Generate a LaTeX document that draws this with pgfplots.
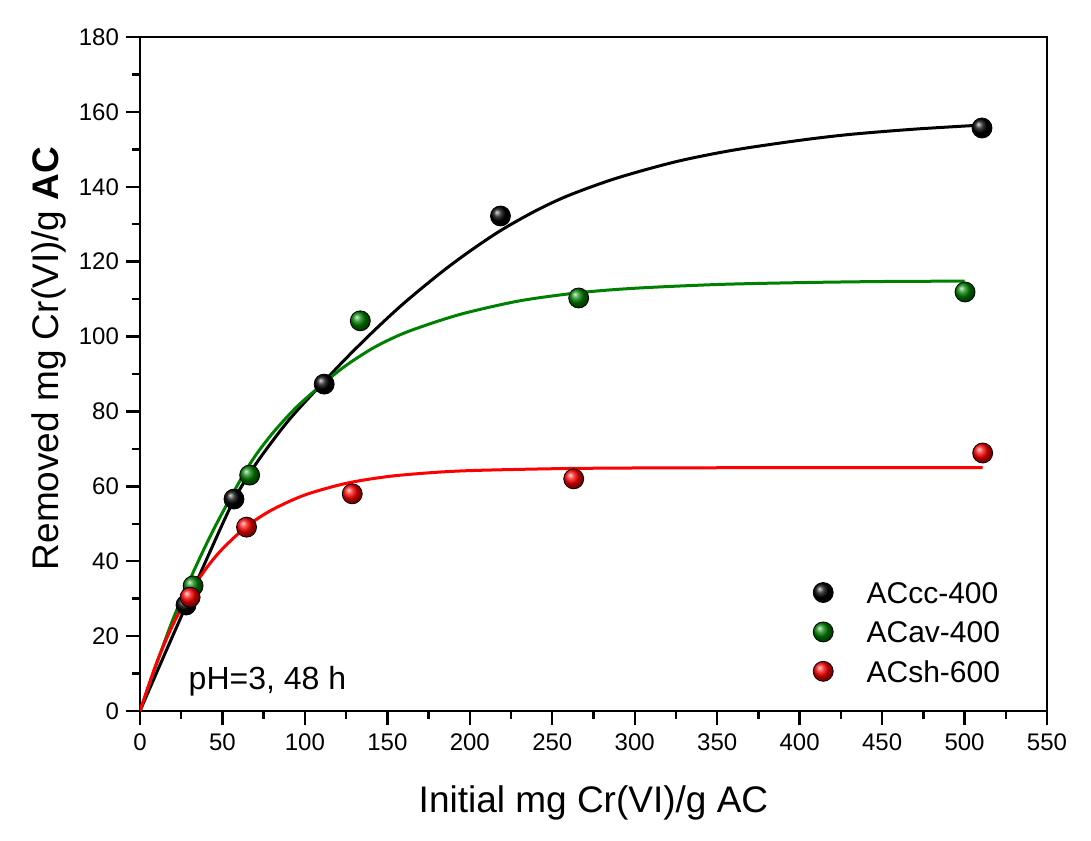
\documentclass[border=0pt]{standalone}
\usepackage{fontspec}
\setmainfont{Liberation Sans}
\usepackage{pgfplots}
\pgfplotsset{compat=1.18}

\definecolor{fitgreen}{RGB}{0,128,0}
\definecolor{fitred}{RGB}{255,0,0}

\begin{document}
\begin{tikzpicture}
\begin{axis}[
  scale only axis,
  width=453.5pt, height=337pt,
  xmin=0, xmax=550, ymin=0, ymax=180,
  xtick={0,50,...,550}, ytick={0,20,...,180},
  minor x tick num=1, minor y tick num=1,
  tick align=outside, tick pos=left,
  major tick length=7pt, minor tick length=3.8pt,
  axis line style={line width=1.2pt},
  every tick/.style={line width=1.2pt, black},
  /pgf/number format/assume math mode=true,
  ticklabel style={font=\fontsize{12}{14}\selectfont},
  xticklabel style={yshift=-1pt},
  xlabel={Initial mg Cr(VI)/g AC},
  ylabel={Removed mg Cr(VI)/g \textbf{AC}},
  label style={font=\fontsize{18.5}{22}\selectfont},
  xlabel style={at={(axis description cs:0.5,-0.1509)}, anchor=base},
  ylabel style={at={(axis description cs:-0.0904,0.523)}, anchor=base},
  legend style={at={(axis cs:408,34.5)}, anchor=north west, draw=none, fill=none,
    inner sep=0pt, outer sep=0pt, font=\fontsize{15}{18}\selectfont,
    row sep=9pt, column sep=16.5pt,
    nodes={inner sep=0pt, text height=10.7pt, text depth=0pt}},
  legend cell align=left,
  legend image code/.code={\draw[#1, mark repeat=1, mark phase=1] plot coordinates {(0pt,0pt)};},
]

% fitted curves
\addplot[black, line width=1.5pt, smooth, forget plot] coordinates {
  (0,0) (14,14.2) (28,28.2) (42,42.1) (57,56.4) (70,65.8) (85,74.8) (95,80.1)
  (111,87.7) (125,94.2) (142,101.6) (160,108.9) (182,116.9) (200,122.8)
  (219,128.4) (240,133.6) (260,137.7) (289,142.3) (325,146.7) (360,149.8)
  (400,152.4) (431,154.0) (470,155.4) (511,156.5)};
\addplot[fitgreen, line width=1.5pt, smooth, forget plot] coordinates {
  (0,0) (10,12.5) (20,24.5) (32,36.8) (45,48.8) (61,61.8) (70,68.2) (81,74.5)
  (95,81.2) (111,87.4) (125,92.3) (142,97.1) (160,100.9) (182,104.3)
  (200,106.6) (231,109.6) (266,111.7) (300,112.9) (350,113.9) (400,114.4)
  (450,114.7) (500,114.8)};
\addplot[fitred, line width=1.5pt, smooth, forget plot] coordinates {
  (0,0) (10,12.8) (20,23.1) (30,31.3) (40,38.0) (50,43.3) (65,49.4) (80,53.7)
  (100,57.7) (125,60.8) (150,62.6) (175,63.6) (200,64.2) (250,64.7)
  (300,64.9) (400,65.0) (511,65.0)};

% measured points
\addplot[only marks, mark=ball, mark size=5pt, mark options={ball color=black}] coordinates {
  (27.9,28.3) (57,56.6) (111.7,87.3) (218.6,132.2) (510.6,155.7)};
\addlegendentry{ACcc-400}
\addplot[only marks, mark=ball, mark size=5pt, mark options={ball color=fitgreen}] coordinates {
  (32.2,33.4) (66.5,63) (133.6,104.2) (266,110.3) (500.3,111.9)};
\addlegendentry{ACav-400}
\addplot[only marks, mark=ball, mark size=5pt, mark options={ball color=fitred}] coordinates {
  (30.4,30.4) (64.6,49.1) (128.7,58) (263,62) (511,68.9)};
\addlegendentry{ACsh-600}

\node[anchor=base west, inner sep=0pt, font=\fontsize{16}{19}\selectfont]
  at (axis cs:29.3,5.8) {pH=3, 48 h};
\end{axis}
\path (current axis.south west) ++(-70pt,-64.5pt) rectangle ++(545.5pt,420pt);
\end{tikzpicture}
\end{document}
